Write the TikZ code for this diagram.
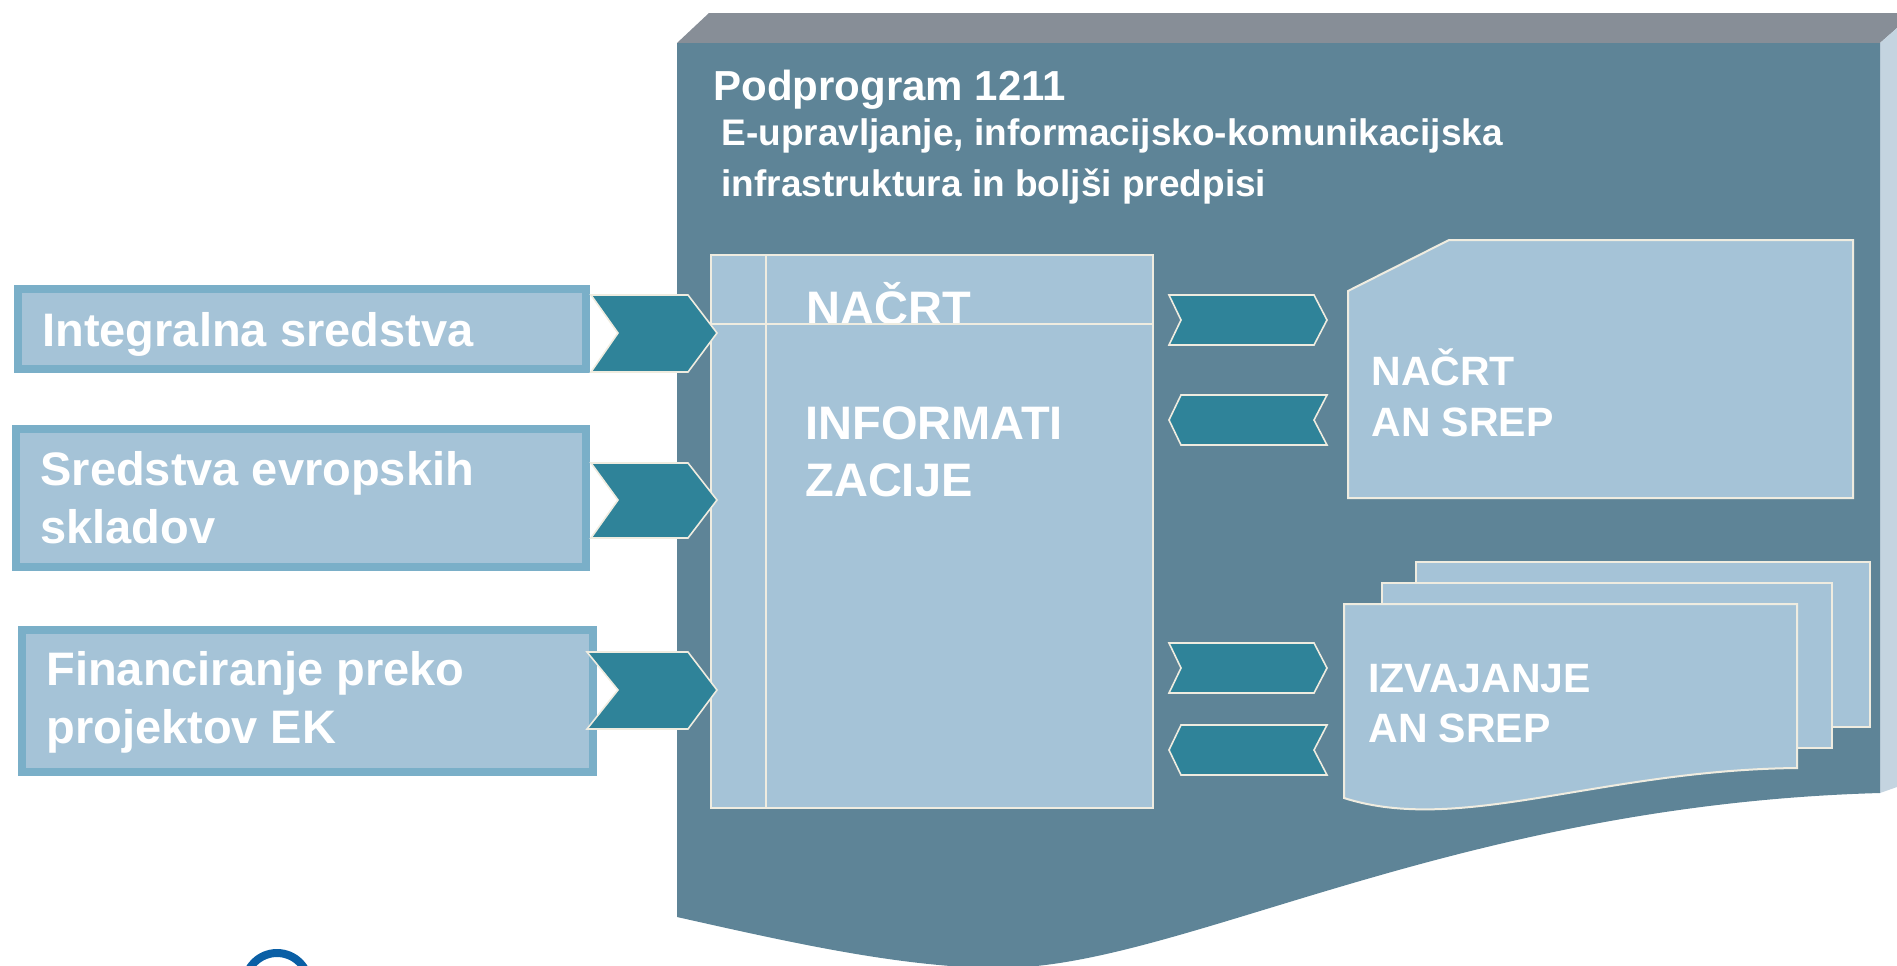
\documentclass[tikz,border=0pt]{standalone}
\usepackage{fontspec}
\setmainfont{Liberation Sans}
\definecolor{frontc}{HTML}{5E8497}
\definecolor{topc}{HTML}{878E97}
\definecolor{sidec}{HTML}{C4D4E0}
\definecolor{boxfill}{HTML}{A5C3D7}
\definecolor{boxborder}{HTML}{7AAFC8}
\definecolor{chevc}{HTML}{2F8399}
\definecolor{cream}{HTML}{EFECE0}
\definecolor{ringc}{HTML}{0A5FA5}
\begin{document}
\begin{tikzpicture}[x=0.5pt,y=-0.5pt,
  srcbox/.style={draw=boxborder, line width=4pt, fill=boxfill},
  chevron/.style={fill=chevc, draw=cream, line width=0.8pt, line join=miter},
  paper/.style={fill=boxfill, draw=cream, line width=1pt},
  lbl/.style={text=white, anchor=base west, inner sep=0pt},
  big/.style={lbl, font=\bfseries\fontsize{23.5}{28}\selectfont},
  mid/.style={lbl, font=\bfseries\fontsize{20.5}{25}\selectfont},
  sub/.style={lbl, font=\bfseries\fontsize{18.5}{22}\selectfont}]
\useasboundingbox (0,0) rectangle (1897,965);
% 3D panel
\fill[topc] (709,13) -- (1897,13) -- (1897,28) -- (1880,43) -- (677,43) -- cycle;
\fill[sidec] (1880,43) -- (1897,28) -- (1897,787) -- (1880,793) -- cycle;
\fill[frontc] (677,43) -- (1880,43) -- (1880,793)
  .. controls (1450,805) and (1180,968) .. (1000,968)
  .. controls (900,968) and (780,940) .. (677,917) -- cycle;
% titles
\node[lbl, font=\bfseries\fontsize{21}{25}\selectfont] (title) at (713,100) {Podprogram 1211};
\node[sub] (sub1) at (721,145) {E-upravljanje, informacijsko-komunikacijska};
\node[sub] (sub2) at (721,196) {infrastruktura in boljši predpisi};
% left source boxes
\path[srcbox] (18,289) rectangle (586,369);
\path[srcbox] (16,429) rectangle (586,567);
\path[srcbox] (22,630) rectangle (593,772);
\node[big] (s1) at (42,346) {Integralna sredstva};
\node[big] (s2a) at (40,485) {Sredstva evropskih};
\node[big] (s2b) at (40,543) {skladov};
\node[big] (s3a) at (46,685) {Financiranje preko};
\node[big] (s3b) at (46,743) {projektov EK};
% main box
\path[paper] (711,255) rectangle (1153,808);
\node[big] (m1) at (806,324) {NAČRT};
\draw[cream, line width=1pt] (766,255) -- (766,808);
\draw[cream, line width=1pt] (711,324) -- (1153,324);
\node[big] (m2) at (805,439) {INFORMATI};
\node[big] (m3) at (805,496) {ZACIJE};
% left chevrons
\path[chevron] (591,295) -- (688,295) -- (717,333) -- (688,372) -- (591,372) -- (618,333) -- cycle;
\path[chevron] (591,463) -- (688,463) -- (717,500) -- (688,538) -- (591,538) -- (618,500) -- cycle;
\path[chevron] (587,652) -- (688,652) -- (717,690) -- (688,729) -- (587,729) -- (618,690) -- cycle;
% right chevrons
\path[chevron] (1169,295) -- (1314,295) -- (1327,320) -- (1314,345) -- (1169,345) -- (1181,320) -- cycle;
\path[chevron] (1181,395) -- (1327,395) -- (1314,420) -- (1327,445) -- (1181,445) -- (1169,420) -- cycle;
\path[chevron] (1169,643) -- (1314,643) -- (1327,668) -- (1314,693) -- (1169,693) -- (1181,668) -- cycle;
\path[chevron] (1181,725) -- (1327,725) -- (1314,750) -- (1327,775) -- (1181,775) -- (1169,750) -- cycle;
% NACRT AN SREP card
\path[paper] (1348,291) -- (1449,240) -- (1853,240) -- (1853,498) -- (1348,498) -- cycle;
\node[mid] (n1) at (1371,385) {NAČRT};
\node[mid] (n2) at (1371,436) {AN SREP};
% multi-document stack
\path[paper] (1416,562) rectangle (1870,727);
\path[paper] (1382,583) rectangle (1832,748);
\path[paper] (1344,604) -- (1797,604) -- (1797,768)
  .. controls (1600,770) and (1460,835) .. (1344,798) -- cycle;
\node[mid] (i1) at (1368,692) {IZVAJANJE};
\node[mid] (i2) at (1368,742) {AN SREP};
% ring at the bottom
\draw[ringc, line width=4pt] (277,985) circle[radius=32];
\end{tikzpicture}
\end{document}
